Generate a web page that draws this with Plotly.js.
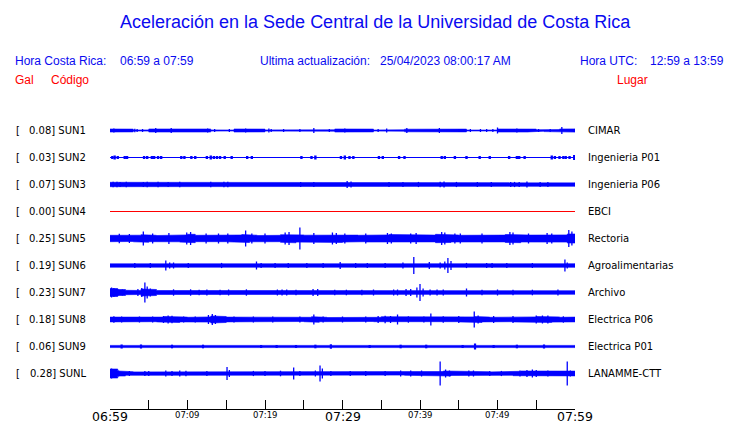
<!DOCTYPE html>
<html><head><meta charset="utf-8">
<script src="https://cdn.plot.ly/plotly-3.0.1.min.js"></script>
<style>html,body{margin:0;padding:0;background:#fff;}#c{width:740px;height:423px;}</style>
</head><body><div id="c"></div>
<script>
// ---------- data ----------
const codes = ['SUN1','SUN2','SUN3','SUN4','SUN5','SUN6','SUN7','SUN8','SUN9','SUNL'];
const gal = ['0.08','0.03','0.07','0.00','0.25','0.19','0.23','0.18','0.06','0.28'];
const places = ['CIMAR','Ingenieria P01','Ingenieria P06','EBCI','Rectoria','Agroalimentarias','Archivo','Electrica P06','Electrica P01','LANAMME-CTT'];
const majorTicks = [0, 30, 60];
const majorLabels = ['06:59','07:29','07:59'];
const minorTicks = [10, 20, 40, 50];
const minorLabels = ['07:09','07:19','07:39','07:49'];

// per-minute envelope half-amplitude (relative units) for each station
const envSUN1 = [1.5,1.5,1.4,0.5,0.6,1.5,1.6,1.3,1.5,1.5,1.6,1.5,1.5,0.6,1.1,0.5,1.5,1.5,1.6,1.4,0.6,1.2,0.5,1.2,0.7,1.2,0.6,1.1,0.7,1.5,1.5,1.5,1.5,1.4,0.5,1.1,1.2,0.7,1.3,1.5,1.5,1.5,1.5,1.5,1.5,1.4,0.5,0.6,0.6,0.5,1.5,1.5,1.5,1.5,1.4,0.7,1.1,0.9,1.5,1.6];
const envSUN2 = [0.5,0.5,0.5,0.5,0.5,0.5,0.5,0.5,0.5,0.5,0.5,0.5,0.5,0.5,0.5,0.5,0.5,0.5,0.5,0.5,0.5,0.5,0.5,0.5,0.5,0.5,0.5,0.5,0.5,0.5,0.5,0.5,0.5,0.5,0.5,0.5,0.5,0.5,0.5,0.5,0.5,0.5,0.5,0.5,0.5,0.5,0.5,0.5,0.5,0.5,0.5,0.5,0.5,0.5,0.5,0.5,0.5,0.5,0.5,0.5];
const envSUN3 = [2.2,2.0,1.8,1.7,1.9,1.8,1.7,1.8,1.7,1.8,1.7,1.7,1.7,1.8,1.9,1.8,1.7,1.7,1.7,1.7,1.7,1.7,1.7,1.7,1.8,1.7,1.8,1.7,1.7,1.7,2.0,1.9,1.7,1.7,1.7,1.7,1.8,1.7,1.7,1.8,1.7,1.7,1.9,1.9,1.8,1.7,1.7,1.8,1.7,1.8,1.7,1.8,1.8,1.9,1.8,1.8,1.8,1.8,1.8,1.8];
const envSUN4 = [0,0,0,0,0,0,0,0,0,0,0,0,0,0,0,0,0,0,0,0,0,0,0,0,0,0,0,0,0,0,0,0,0,0,0,0,0,0,0,0,0,0,0,0,0,0,0,0,0,0,0,0,0,0,0,0,0,0,0,0];
const envSUN5 = [3.2,3.4,3.0,3.3,3.8,3.2,3.0,3.5,3.3,3.6,4.2,3.2,3.4,3.6,3.2,3.3,3.5,4.0,3.3,3.0,3.4,3.2,3.8,4.3,3.6,3.3,3.6,3.4,3.8,4.0,3.6,3.4,3.2,3.5,3.3,3.6,4.0,3.4,3.6,3.8,3.9,3.4,4.2,4.0,3.5,3.2,3.4,3.3,3.5,3.2,3.4,4.0,4.2,3.5,3.4,3.3,3.8,4.0,3.6,4.5];
const envSUN6 = [1.7,1.7,1.7,1.7,1.7,1.7,1.7,1.8,1.8,1.7,1.7,1.7,1.7,1.7,1.7,1.7,1.7,1.7,1.7,1.7,1.7,1.7,1.7,1.7,1.7,1.7,1.7,1.7,1.7,1.7,1.7,1.7,1.7,1.7,1.7,1.7,1.7,1.7,1.7,1.8,1.7,1.7,1.9,2.0,1.8,1.7,1.7,1.7,1.7,1.7,1.7,1.7,1.7,1.7,1.7,1.7,1.7,1.7,1.9,1.8];
const envSUN7 = [4.0,3.0,2.2,2.0,3.5,3.0,2.0,1.8,2.2,2.0,2.0,1.8,1.8,2.0,1.8,1.8,1.8,2.0,1.8,1.8,1.8,2.0,2.0,1.8,1.8,1.8,2.2,2.0,1.8,1.8,1.8,1.8,1.8,1.8,1.8,1.8,2.0,2.2,2.2,2.2,2.0,2.0,2.0,1.8,1.8,1.8,2.0,1.8,1.8,1.8,1.8,1.8,1.8,1.8,1.8,1.8,1.8,1.8,1.8,1.8];
const envSUN8 = [2.4,2.2,2.0,2.2,2.0,2.2,2.4,3.0,3.0,2.4,2.2,2.2,2.6,3.5,3.0,2.4,2.2,2.2,2.0,2.2,2.4,2.2,2.2,2.0,2.0,2.2,2.8,2.2,2.0,2.0,1.8,1.8,2.0,2.0,2.2,2.8,2.6,2.8,2.2,2.2,2.2,2.6,2.6,2.4,2.2,2.4,2.6,3.0,2.4,2.2,2.2,2.2,2.4,2.4,2.6,3.0,3.0,2.6,2.2,2.4];
const envSUN9 = [1.1,1.0,1.1,0.6,1.1,1.1,0.7,1.0,1.1,1.1,0.8,1.1,1.1,0.7,1.1,1.1,1.0,0.8,0.6,0.5,0.5,0.6,0.5,0.8,0.5,0.7,0.5,0.8,0.8,0.5,0.6,0.9,0.8,0.5,0.7,1.0,0.8,0.5,0.7,0.9,1.0,0.9,0.7,0.9,1.0,0.6,0.9,1.0,0.9,0.7,1.0,0.9,1.0,1.1,1.0,0.9,1.0,1.1,1.0,1.1];
const envSUNL = [4.5,2.5,1.8,1.6,1.6,1.8,1.6,1.9,2.2,2.2,1.6,1.6,1.8,1.6,1.6,2.0,1.6,1.6,1.6,1.8,1.6,1.6,1.8,1.6,2.0,1.6,1.6,2.2,1.8,1.6,1.6,1.6,1.6,1.6,1.8,1.6,1.6,1.6,1.8,2.0,2.0,1.8,2.0,2.5,2.0,1.8,2.0,2.0,1.8,1.6,1.8,1.8,2.2,2.5,2.6,2.2,2.0,2.2,2.5,2.4];

// spikes: [minute, half-amplitude]
const spkSUN1 = [[0.5,2],[3.2,1.8],[3.5,1.5],[4.2,1.5],[5.9,2.5],[7.9,2.5],[12.6,2],[13.5,1.5],[15.4,1.5],[17.5,2],[20.5,2],[20.8,1.5],[22.4,1.5],[24.5,1.5],[26.3,2.5],[28.3,1.5],[30.3,2],[34.6,1.5],[35.7,2],[38.3,2.5],[42.5,2.5],[46.5,1.5],[47.8,1.5],[48.6,1.5],[49.4,1.5],[50.0,3],[52.5,2],[55.3,1.5],[56.8,1.5],[58.3,3.5]];
const spkSUN2 = [[0.3,1.5],[0.6,2],[1.0,1.5],[1.9,1.5],[2.2,1.5],[4.4,1.5],[4.8,1.5],[5.4,1.5],[5.7,1.5],[6.2,1.5],[6.6,1.5],[9.2,1.5],[9.6,1.5],[10.5,1.5],[11.0,1.5],[12.5,1.5],[13.0,2],[13.4,1.5],[13.8,1.5],[14.2,1.5],[14.8,1.5],[15.7,1.5],[17.7,1.5],[18.3,1.5],[24.7,1.5],[26.0,1.5],[26.5,2],[29.8,1.5],[30.3,2],[30.9,1.5],[31.4,1.5],[34.7,1.5],[35.2,1.5],[37.3,1.5],[38.0,1.5],[42.8,1.5],[43.2,1.5],[44.5,1.5],[46.0,1.5],[47.7,1.5],[49.0,1.5],[51.5,1.5],[52.5,1.5],[52.8,1.5],[53.5,1.5],[57.0,2],[57.4,1.5],[58.0,1.5],[58.5,1.5],[58.8,1.5],[59.3,1.5],[59.9,2.5]];
const spkSUN3 = [[0.4,2.8],[0.9,2.8],[1.3,2.6],[2.1,2.8],[4.3,2.6],[4.8,2.8],[6.2,2.8],[7.5,2.6],[9.0,2.8],[13.0,2.8],[14.7,2.8],[15.2,2.8],[24.6,2.6],[26.3,2.6],[30.6,3.6],[31.1,3.0],[36.0,2.6],[37.8,2.6],[39.8,2.6],[42.6,2.8],[43.1,3.0],[44.7,2.6],[47.4,2.6],[49.2,2.6],[51.7,2.6],[52.2,2.6],[52.8,2.6],[53.8,3.0],[55.5,2.6],[56.5,2.6]];
const spkSUN4 = [];
const spkSUN5 = [[1.2,4.8],[2.5,4.5],[4.3,7],[5.5,5],[7.6,5.5],[9.9,6],[10.4,6.5],[12.4,5],[14.0,5],[15.2,5],[17.5,8],[18.3,5],[20.0,5],[22.6,6],[23.1,6.5],[24.5,11],[26.3,5.5],[28.7,6],[29.2,5.5],[30.3,5],[33.0,5],[35.8,5.5],[36.3,5],[38.8,5],[39.5,5.5],[42.8,6.5],[43.2,6],[44.5,5],[45.2,5],[48.0,5],[51.6,6.5],[52.0,6],[54.0,5],[56.4,5.5],[57.0,5],[59.2,8.5],[59.6,7]];
const spkSUN6 = [[3.2,2.6],[5.2,2.6],[7.2,5],[7.7,3],[8.2,3],[10.1,2.6],[14.4,2.6],[18.9,4],[19.5,2.6],[21.3,2.6],[23.0,2.5],[25.4,2.6],[27.5,2.5],[29.7,3.5],[31.7,2.6],[33.2,2.5],[35.5,2.6],[37.8,3],[39.2,8.5],[41.2,3.5],[42.6,3],[43.2,4],[43.6,7.5],[44.0,4.5],[46.0,2.6],[48.6,2.6],[49.3,2.6],[51.2,2.5],[54.5,2.5],[58.7,6],[59.0,3]];
const spkSUN7 = [[0.2,5],[0.5,4.5],[1.0,3.5],[1.6,3],[3.6,3.5],[4.1,4.5],[4.5,10],[4.8,6],[5.2,4],[8.2,3.2],[10.4,3.2],[11.5,2.8],[12.5,3],[14.2,2.8],[15.3,3],[17.6,3.2],[21.6,3],[22.2,3],[22.8,3],[24.0,2.8],[26.2,3.5],[26.8,3.5],[29.0,2.8],[30.5,2.8],[32.5,2.8],[34.0,3],[36.6,3],[37.1,3],[38.2,3.5],[38.8,3.5],[39.6,5],[40.0,8.5],[40.4,4],[41.3,3],[42.2,3],[43.0,3],[46.0,4],[48.0,2.8],[50.0,3],[52.0,2.8],[54.5,2.8],[57.8,3]];
const spkSUN8 = [[0.5,3.2],[1.5,3],[3.8,3],[5.5,3],[6.9,3.5],[7.5,4],[8.0,3.8],[9.5,3],[11.0,3],[12.7,4.5],[13.2,5.5],[13.6,4.5],[16.0,3],[18.5,3],[21.0,3],[24.5,3],[26.3,5],[27.5,3],[30.0,3],[33.0,3],[34.6,3.5],[35.5,3.8],[36.2,3.5],[37.1,5],[38.5,3.2],[40.5,3],[41.4,6],[43.0,3.2],[45.0,3.5],[47.0,8],[47.5,4],[49.5,3.5],[52.0,3.5],[55.0,4],[55.8,4],[56.5,4],[58.5,3.2]];
const spkSUN9 = [[1.5,2],[4.0,2],[8.0,1.8],[12.0,1.8],[19.5,1.5],[21.5,1.5],[24.0,1.5],[26.5,1.8],[28.5,2.2],[33.5,1.5],[37.5,1.8],[40.8,1.8],[45.5,1.5],[47.1,3],[49.5,1.5],[52.5,1.8],[56.0,2]];
const spkSUNL = [[0.2,5],[0.6,4.5],[1.1,3],[2.5,2.5],[4.5,2.6],[5.0,2.6],[7.2,3],[8.0,2.6],[9.0,3],[9.8,2.8],[12.5,2.5],[15.1,6.5],[15.4,3.5],[18.5,2.6],[20.0,2.6],[22.0,2.8],[23.7,6],[24.5,2.6],[26.5,3],[27.1,8],[27.4,5],[28.5,2.6],[31.0,2.5],[33.0,2.6],[35.5,2.5],[37.5,3],[38.8,3],[40.2,3],[42.6,12],[43.3,4],[43.8,3],[46.3,3],[46.9,3],[49.0,2.6],[50.5,2.6],[52.9,3],[53.8,3.5],[54.5,4],[55.0,3.5],[56.5,3],[59.0,12],[59.4,3]];

const envs = [envSUN1,envSUN2,envSUN3,envSUN4,envSUN5,envSUN6,envSUN7,envSUN8,envSUN9,envSUNL];
const spikes = [spkSUN1,spkSUN2,spkSUN3,spkSUN4,spkSUN5,spkSUN6,spkSUN7,spkSUN8,spkSUN9,spkSUNL];

// ---------- layout geometry ----------
const L = 110, R = 575, T = 116, B = 409;
const ROW0 = 130.5, PITCH = 27;
const px = x => (x - L) / (R - L);
const py = y => (B - y) / (B - T);
const SC = 1 / PITCH; // amplitude units -> row units
const BLUE = '#0000ff', TXT = '#0a0af0', RED = '#ff0000';
const spikeWidth = [1.3, 2.4, 1.3, 1.3, 1.3, 1.3, 1.3, 1.3, 2.2, 1.3];

const traces = [];
envs.forEach((env, i) => {
  const col = i === 3 ? RED : BLUE;
  traces.push({x:[0,60], y:[i,i], mode:'lines', line:{color:col, width:1}, hoverinfo:'skip', showlegend:false});
  if (env.some(v => v > 0.5)) {
    const xs = [], ys = [];
    env.forEach((a, m) => { xs.push(m, m + 1); ys.push(i - a * SC, i - a * SC); });
    for (let m = env.length - 1; m >= 0; m--) { xs.push(m + 1, m); ys.push(i + env[m] * SC, i + env[m] * SC); }
    traces.push({x:xs, y:ys, mode:'lines', fill:'toself', fillcolor:col, line:{color:col, width:0.6}, hoverinfo:'skip', showlegend:false});
  }
  if (spikes[i].length) {
    const sx = [], sy = [];
    spikes[i].forEach(([t, h]) => { sx.push(t, t, null); sy.push(i - h * SC, i + h * SC, null); });
    traces.push({x:sx, y:sy, mode:'lines', line:{color:col, width:spikeWidth[i]}, hoverinfo:'skip', showlegend:false});
  }
});

const ann = [];
const A = (text, x, y, xanchor, size, color, family) => ann.push({text, x:px(x), y:py(y), xref:'paper', yref:'paper', xanchor, yanchor:'middle', showarrow:false, font:{size, color, family}});
const SANS = 'Liberation Sans, Arial, sans-serif';
const DJ = 'DejaVu Sans, sans-serif';
A('Aceleración en la Sede Central de la Universidad de Costa Rica', 375, 22, 'center', 18, TXT, SANS);
A('Hora Costa Rica:', 13, 61, 'left', 12, TXT, SANS);
A('06:59 a 07:59', 118, 61, 'left', 12, TXT, SANS);
A('Ultima actualización:', 258, 61, 'left', 12, TXT, SANS);
A('25/04/2023 08:00:17 AM', 378, 61, 'left', 12, TXT, SANS);
A('Hora UTC:', 578, 61, 'left', 12, TXT, SANS);
A('12:59 a 13:59', 726, 61, 'right', 12, TXT, SANS);
A('Gal', 13, 80, 'left', 12, RED, SANS);
A('Código', 49, 80, 'left', 12, RED, SANS);
A('Lugar', 650, 80, 'right', 12, RED, SANS);

codes.forEach((c, i) => {
  ann.push({text:'[', x:px(14), y:i, xref:'paper', yref:'y', xanchor:'left', yanchor:'middle', showarrow:false, font:{size:10, color:'#000', family:DJ}});
  ann.push({text:gal[i] + '] ' + c, x:px(88), y:i, xref:'paper', yref:'y', xanchor:'right', yanchor:'middle', showarrow:false, font:{size:10, color:'#000', family:DJ}});
  ann.push({text:places[i], x:px(586), y:i, xref:'paper', yref:'y', xanchor:'left', yanchor:'middle', showarrow:false, font:{size:10, color:'#000', family:DJ}});
});
majorTicks.forEach((t, k) => ann.push({text:majorLabels[k], x:t, y:py(416), xref:'x', yref:'paper', xanchor:'center', yanchor:'middle', showarrow:false, font:{size:12.5, color:'#000', family:DJ}}));
minorTicks.forEach((t, k) => ann.push({text:minorLabels[k], x:t, y:py(415), xref:'x', yref:'paper', xanchor:'center', yanchor:'middle', showarrow:false, font:{size:8.5, color:'#000', family:DJ}}));

const tv = [0,5,10,15,20,25,30,35,40,45,50,55,60];
const layout = {
  width:740, height:423,
  margin:{l:L, r:740 - R, t:T, b:423 - B, pad:0},
  paper_bgcolor:'#fff', plot_bgcolor:'#fff',
  showlegend:false,
  xaxis:{range:[0,60], showline:true, linecolor:'#000', linewidth:1, ticks:'inside', ticklen:9, tickwidth:1, tickcolor:'#000', tickmode:'array', tickvals:tv, showticklabels:false, showgrid:false, zeroline:false, fixedrange:true},
  yaxis:{range:[(B - ROW0) / PITCH, (T - ROW0) / PITCH], showline:false, showgrid:false, zeroline:false, showticklabels:false, ticks:'', fixedrange:true},
  annotations:ann
};
Plotly.newPlot('c', traces, layout, {displayModeBar:false, staticPlot:true});
</script></body></html>
